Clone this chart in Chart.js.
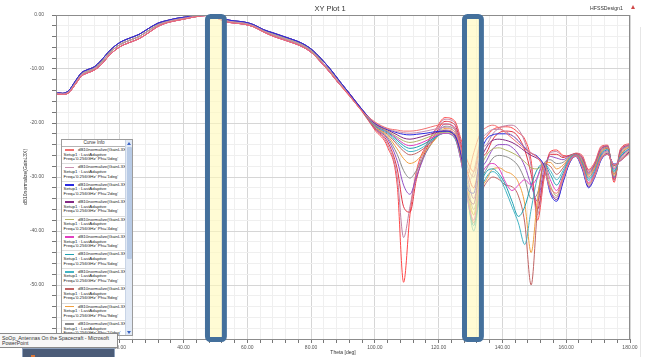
<!DOCTYPE html>
<html>
<head>
<meta charset="utf-8">
<script src="https://cdn.jsdelivr.net/npm/chart.js@4.4.1/dist/chart.umd.min.js"></script>
<style>
  body { margin: 0; width: 645px; height: 357px; overflow: hidden; background: #fff; position: relative;
         font-family: "Liberation Sans", Arial, sans-serif; color: #333; }
  #plot { position: absolute; left: 0; top: 0; }
  #title { position: absolute; left: 290px; top: 4px; width: 80px; text-align: center; font-size: 7.5px; line-height: 10px; color: #333; }
  #design { position: absolute; left: 590px; top: 5px; font-size: 5.2px; line-height: 7px; color: #333; }
  #warn { position: absolute; left: 631px; top: 5px; width: 0; height: 0; border-left: 2.5px solid transparent;
          border-right: 2.5px solid transparent; border-bottom: 4px solid #d04848; }
  #edge { position: absolute; left: 640px; top: 27px; width: 1px; height: 330px; background: #e6e6e6; }
  #curveInfo { position: absolute; left: 61px; top: 139px; width: 72px; height: 197px; box-sizing: border-box;
               border: 1px solid #9c9c9c; background: #fff; overflow: hidden; }
  #curveInfo .hdr { height: 6px; margin-right: 6px; font-size: 4.6px; line-height: 6px; text-align: center;
                    color: #333; border-bottom: 1px solid #b4b4b4; }
  #curveInfo .entry { position: relative; height: 16.4px; margin-right: 6px; border-bottom: 1px solid #dcdcdc;
                      font-size: 4.4px; line-height: 4.6px; color: #222; white-space: nowrap; }
  #curveInfo .sw { position: absolute; left: 3px; top: 2.3px; width: 9px; height: 1.6px; }
  #curveInfo .l1 { position: absolute; left: 16px; top: 1px; }
  #curveInfo .l2 { position: absolute; left: 1.5px; top: 5.6px; }
  #curveInfo .l3 { position: absolute; left: 1.5px; top: 10.2px; }
  #scroll { position: absolute; right: 0; top: 0; width: 6px; height: 100%; background: #e1e9f5; border-left: 1px solid #c8d4e6; }
  #thumb { position: absolute; left: 0.5px; top: 7px; width: 5px; height: 112px; background: #b8cbe6; border-radius: 1px; }
  #up, #down { position: absolute; left: 1px; width: 0; height: 0; border-left: 2px solid transparent; border-right: 2px solid transparent; }
  #up { top: 1.5px; border-bottom: 3px solid #3b63c4; }
  #down { bottom: 1.5px; border-top: 3px solid #3b63c4; }
  #tip { position: absolute; left: 0; top: 333px; width: 118px; height: 15px; box-sizing: border-box;
         background: #f7f7f7; border: 1px solid #8a8a8a; border-left: none; font-size: 5.2px; line-height: 5.6px;
         padding: 1.5px 0 0 2px; color: #333; white-space: nowrap; }
  #task { position: absolute; left: 22px; top: 348px; width: 93px; height: 12px; box-sizing: border-box;
          background: #4b5c78; border: 1px solid #8fa2bd; }
  #task i { position: absolute; left: 8px; top: 6px; width: 4px; height: 4px; background: #d9773a; }
</style>
</head>
<body>
<canvas id="plot" width="645" height="357"></canvas>
<div id="title">XY Plot 1</div>
<div id="design">HFSSDesign1</div>
<div id="warn"></div>
<div id="edge"></div>
<div id="curveInfo"><div class="hdr">Curve Info</div><div id="entries"></div>
  <div id="scroll"><div id="up"></div><div id="thumb"></div><div id="down"></div></div></div>
<div id="tip">SoOp_Antennas On the Spacecraft - Microsoft<br>PowerPoint</div>
<div id="task"><i></i></div>
<script>
// theta 0..89 deg: all cuts overlap, three edges of the bundle
const thetaLead = [0, 2, 4, 6, 8, 10, 12, 14, 17, 20, 23, 26, 29, 32, 35, 38, 41, 44, 47, 50, 53, 56, 59, 62, 65, 68, 71, 74, 77, 80, 83, 86, 89];
const leadUpper = [-14.3, -14.5, -14.0, -12.3, -10.7, -10.1, -9.6, -8.5, -6.5, -5.1, -4.3, -3.6, -2.5, -1.5, -1.0, -0.6, -0.35, -0.05, 0, -0.2, -0.8, -1.1, -1.3, -1.8, -2.7, -3.3, -3.9, -4.5, -5.2, -6.3, -8.0, -10.0, -12.3];
const leadMid = [-14.4, -14.6, -14.2, -12.6, -11.0, -10.4, -9.9, -8.9, -6.9, -5.5, -4.7, -4.0, -2.9, -1.8, -1.2, -0.8, -0.5, -0.15, 0, -0.3, -1.0, -1.3, -1.5, -2.0, -2.9, -3.6, -4.2, -4.8, -5.5, -6.6, -8.4, -10.4, -12.6];
const leadLower = [-14.6, -14.7, -14.4, -12.9, -11.3, -10.7, -10.2, -9.3, -7.3, -5.9, -5.1, -4.4, -3.3, -2.1, -1.4, -1.0, -0.65, -0.3, -0.1, -0.45, -1.2, -1.5, -1.7, -2.2, -3.1, -3.9, -4.5, -5.1, -5.8, -6.9, -8.7, -10.7, -12.9];

// theta 92..180 deg, one array per phi cut
const thetaTail = [92, 96, 100, 104, 107, 109, 111, 113, 116, 119, 122, 125, 127, 129, 131, 133, 135, 137, 139, 141, 143, 145, 147, 149, 151, 153, 155, 157, 159, 161, 163, 165, 167, 169, 171, 173, 175, 177, 180];
const tail0 = [-14.9, -17.8, -19.8, -21.0, -21.3, -21.5, -21.5, -21.4, -21.0, -20.5, -20.2, -21.0, -24.5, -29.5, -25.5, -22.0, -20.8, -20.4, -20.9, -21.8, -22.8, -23.8, -24.8, -25.6, -26.4, -28.5, -32.0, -33.0, -30.0, -27.2, -26.1, -28.0, -31.2, -29.5, -26.5, -25.8, -27.8, -27.0, -25.5];
const tail1 = [-14.9, -17.8, -19.9, -21.1, -21.6, -21.8, -21.9, -21.8, -21.5, -21.1, -20.8, -21.6, -25.0, -31.0, -29.0, -23.5, -22.0, -21.2, -21.2, -21.6, -22.3, -23.3, -24.5, -25.5, -26.4, -28.2, -32.5, -33.8, -30.5, -27.3, -26.1, -28.2, -31.6, -29.8, -26.6, -25.8, -27.7, -26.9, -25.4];
const tail2 = [-14.5, -17.5, -20.0, -21.2, -21.8, -22.1, -22.2, -22.1, -21.9, -21.6, -21.5, -22.2, -25.5, -32.0, -33.0, -26.0, -23.0, -22.2, -22.0, -22.0, -22.3, -23.3, -24.6, -25.6, -26.2, -28.0, -33.0, -34.5, -31.0, -27.5, -26.2, -28.5, -32.0, -30.0, -26.8, -25.8, -27.6, -27.0, -25.4];
const tail3 = [-14.5, -17.5, -20.1, -21.3, -22.2, -22.8, -23.0, -22.8, -22.3, -21.8, -21.5, -22.3, -26.0, -33.0, -35.0, -27.5, -24.5, -23.2, -23.0, -23.2, -23.6, -24.3, -25.2, -26.0, -26.6, -27.8, -32.5, -34.2, -30.8, -27.4, -26.1, -28.3, -31.8, -29.8, -26.6, -25.6, -27.9, -26.9, -25.2];
const tail4 = [-14.5, -17.5, -20.2, -21.5, -22.6, -23.3, -23.6, -23.4, -22.8, -22.1, -21.7, -22.4, -26.5, -33.0, -37.0, -29.0, -26.0, -24.8, -24.6, -25.0, -25.5, -26.2, -27.2, -28.3, -28.5, -27.6, -31.5, -33.5, -30.3, -27.2, -26.0, -28.0, -31.4, -29.5, -26.3, -25.4, -28.2, -26.7, -25.0];
const tail5 = [-14.7, -17.6, -20.3, -21.6, -22.9, -23.8, -24.2, -24.0, -23.3, -22.4, -21.9, -22.6, -27.0, -34.0, -38.0, -30.5, -28.0, -27.5, -28.5, -31.0, -32.5, -31.5, -30.5, -31.5, -30.0, -27.5, -30.5, -32.5, -29.8, -27.0, -25.9, -27.8, -31.0, -29.2, -26.1, -25.2, -28.5, -26.5, -24.8];
const tail6 = [-14.7, -17.6, -20.4, -21.7, -23.2, -24.2, -24.7, -24.5, -23.7, -22.6, -21.9, -22.8, -27.0, -34.0, -39.0, -32.0, -29.0, -28.5, -29.5, -31.5, -34.5, -37.3, -35.5, -31.5, -28.5, -27.5, -29.5, -31.5, -29.3, -26.8, -25.9, -27.6, -30.6, -29.0, -25.9, -25.0, -28.8, -26.3, -24.7];
const tail7 = [-14.7, -17.6, -20.5, -21.9, -23.6, -24.7, -25.3, -25.1, -24.1, -22.7, -21.6, -22.4, -26.5, -33.5, -40.0, -33.0, -30.0, -29.0, -30.0, -32.5, -35.5, -38.5, -42.5, -36.0, -30.0, -27.5, -28.8, -30.5, -28.8, -26.6, -25.9, -27.4, -30.3, -28.7, -25.7, -24.9, -29.1, -26.2, -24.6];
const tail8 = [-14.7, -17.6, -20.6, -22.1, -24.0, -25.2, -25.9, -25.6, -24.4, -22.8, -21.3, -22.0, -26.0, -33.0, -38.5, -33.5, -31.0, -30.0, -30.5, -31.5, -31.8, -33.5, -38.5, -50.0, -36.0, -27.6, -28.0, -29.5, -28.3, -26.5, -25.8, -27.2, -30.0, -28.4, -25.5, -24.7, -29.4, -26.0, -24.4];
const tail9 = [-14.7, -17.6, -20.7, -22.4, -24.8, -26.6, -27.5, -27.0, -25.0, -23.0, -21.0, -21.6, -25.5, -32.0, -37.0, -32.5, -30.5, -28.5, -28.3, -29.0, -29.5, -31.0, -35.0, -44.0, -34.0, -27.6, -27.3, -28.5, -27.8, -26.4, -25.8, -27.0, -29.7, -28.1, -25.3, -24.6, -29.7, -25.8, -24.3];
const tail10 = [-14.7, -17.7, -20.8, -22.7, -25.8, -28.8, -30.2, -28.8, -25.5, -22.8, -20.6, -21.2, -25.0, -31.0, -36.0, -31.0, -28.5, -26.5, -26.0, -26.2, -26.8, -28.0, -30.5, -34.0, -33.0, -27.5, -26.8, -27.5, -27.3, -26.2, -25.8, -26.8, -29.5, -27.9, -25.1, -24.5, -30.0, -25.6, -24.2];
const tail11 = [-14.5, -17.7, -20.9, -23.0, -27.0, -31.5, -33.2, -30.0, -25.5, -22.5, -20.2, -20.8, -24.5, -30.0, -34.0, -29.0, -27.0, -24.8, -24.0, -24.0, -24.5, -25.8, -28.0, -31.5, -34.5, -28.5, -26.2, -26.5, -26.8, -26.1, -25.8, -26.6, -29.3, -27.7, -24.9, -24.4, -30.2, -25.4, -24.1];
const tail12 = [-14.9, -17.8, -21.0, -23.5, -28.5, -35.5, -36.5, -30.5, -25.0, -22.0, -19.7, -20.3, -24.0, -29.0, -32.0, -27.0, -25.5, -23.0, -21.8, -21.5, -21.6, -22.6, -25.0, -29.5, -36.0, -29.5, -25.8, -25.8, -26.4, -26.0, -25.7, -26.4, -29.1, -27.6, -24.7, -24.3, -30.5, -25.2, -24.0];
const tail13 = [-14.9, -17.8, -21.1, -24.0, -30.0, -41.2, -35.5, -29.5, -24.5, -21.5, -19.3, -19.9, -23.5, -28.0, -30.0, -25.0, -24.0, -22.0, -20.9, -20.5, -20.4, -21.2, -23.5, -28.0, -37.0, -30.0, -25.5, -25.3, -26.2, -26.0, -25.6, -26.2, -28.8, -27.4, -24.5, -24.2, -30.7, -25.0, -23.9];
const tail14 = [-15.0, -17.9, -21.3, -24.5, -31.5, -49.5, -37.0, -29.0, -24.2, -21.2, -19.0, -19.6, -23.0, -27.0, -29.0, -24.0, -22.5, -21.2, -20.8, -20.7, -20.9, -21.8, -23.0, -27.0, -38.0, -30.5, -25.3, -25.0, -26.0, -26.1, -25.6, -26.0, -28.6, -27.2, -24.3, -24.1, -31.0, -24.8, -23.8];

const phiDeg = [0, 1, 2, 3, 4, 5, 6, 7, 8, 9, 10, 11, 12, 13, 14];
const curveColors = ["#f07070", "#c890b0", "#2a2ae0", "#842a84", "#b2b266", "#e040c0", "#20a0b0", "#44b4c4",
                     "#c06464", "#f0a040", "#8c8c8c", "#9250c2", "#e03444", "#c080a4", "#ff4848"];
const tails = [tail0, tail1, tail2, tail3, tail4, tail5, tail6, tail7, tail8, tail9, tail10, tail11, tail12, tail13, tail14];
const leads = [leadLower, leadMid, leadUpper, leadUpper, leadMid, leadLower, leadMid, leadUpper, leadLower, leadMid,
               leadLower, leadUpper, leadMid, leadUpper, leadLower];

// the two highlight rectangles pasted over the plot (theta range)
const highlightSpans = [[47.5, 52.8], [128.1, 133.4]];

const datasets = phiDeg.map((phi, i) => ({
  label: `Phi='${phi}deg'`,
  data: thetaLead.map((t, k) => ({ x: t, y: leads[i][k] }))
    .concat(thetaTail.map((t, k) => ({ x: t, y: tails[i][k] }))),
  borderColor: curveColors[i],
  borderWidth: 1,
  pointRadius: 0,
  cubicInterpolationMode: "monotone",
  fill: false,
}));

// legend box entries
const entries = document.getElementById("entries");
phiDeg.forEach((phi, i) => {
  const d = document.createElement("div");
  d.className = "entry";
  d.innerHTML = `<div class="sw" style="background:${curveColors[i]}"></div>` +
    `<span class="l1">dB10normalize(GainL3X)</span>` +
    `<span class="l2">Setup1 : LastAdaptive</span>` +
    `<span class="l3">Freq='0.256GHz' Phi='${phi}deg'</span>`;
  entries.appendChild(d);
});

const isMajor = (v, step) => Math.abs(v % step) < 1e-6;

const frameAndBoxes = {
  id: "frameAndBoxes",
  afterDatasetsDraw(chart) {
    const { ctx, chartArea: a, scales: { x } } = chart;
    ctx.save();
    ctx.strokeStyle = "#8c8c8c";
    ctx.lineWidth = 1;
    ctx.strokeRect(a.left + 0.5, a.top + 0.5, a.right - a.left - 1, a.bottom - a.top);
    highlightSpans.forEach(([t0, t1]) => {
      const l = x.getPixelForValue(t0);
      const r = x.getPixelForValue(t1);
      ctx.beginPath();
      ctx.roundRect(l, a.top + 1.5, r - l, a.bottom - a.top - 1, 3);
      ctx.fillStyle = "rgba(255,249,185,0.62)";
      ctx.fill();
      ctx.lineWidth = 5;
      ctx.strokeStyle = "#44709c";
      ctx.stroke();
    });
    ctx.restore();
  },
};

const font = { family: "'Liberation Sans', Arial, sans-serif", size: 5 };

new Chart(document.getElementById("plot"), {
  type: "line",
  data: { datasets },
  options: {
    responsive: false,
    animation: false,
    devicePixelRatio: 1,
    layout: { padding: { left: 20, top: 15, right: 15, bottom: 0 } },
    plugins: { legend: { display: false }, tooltip: { enabled: false } },
    scales: {
      x: {
        type: "linear",
        min: 0,
        max: 180,
        afterFit(scale) { scale.height = 18; },
        ticks: {
          stepSize: 4, autoSkip: false, maxRotation: 0, padding: 1.5, color: "#555", font,
          callback: (v) => (isMajor(v, 20) ? v.toFixed(2) : ""),
        },
        grid: {
          color: (c) => (c.tick && isMajor(c.tick.value, 20) ? "#d6d6d6" : "#efefef"),
          tickColor: "#777", tickLength: 4,
        },
        border: { color: "#808080" },
        title: { display: true, text: "Theta [deg]", color: "#333", font, padding: { top: 0, bottom: 1 } },
      },
      y: {
        min: -60,
        max: 0,
        afterFit(scale) { scale.width = 36; },
        ticks: {
          stepSize: 2, autoSkip: false, padding: 8, color: "#555", font,
          callback: (v) => (isMajor(v, 10) ? v.toFixed(2) : ""),
        },
        grid: {
          color: (c) => (c.tick && isMajor(c.tick.value, 10) ? "#d6d6d6" : "#efefef"),
          tickColor: "#777", tickLength: 4,
        },
        border: { color: "#808080" },
        title: { display: true, text: "dB10normalize(GainL3X)", color: "#333", font, padding: { top: 3, bottom: 0 } },
      },
    },
  },
  plugins: [frameAndBoxes],
});
</script>
</body>
</html>
